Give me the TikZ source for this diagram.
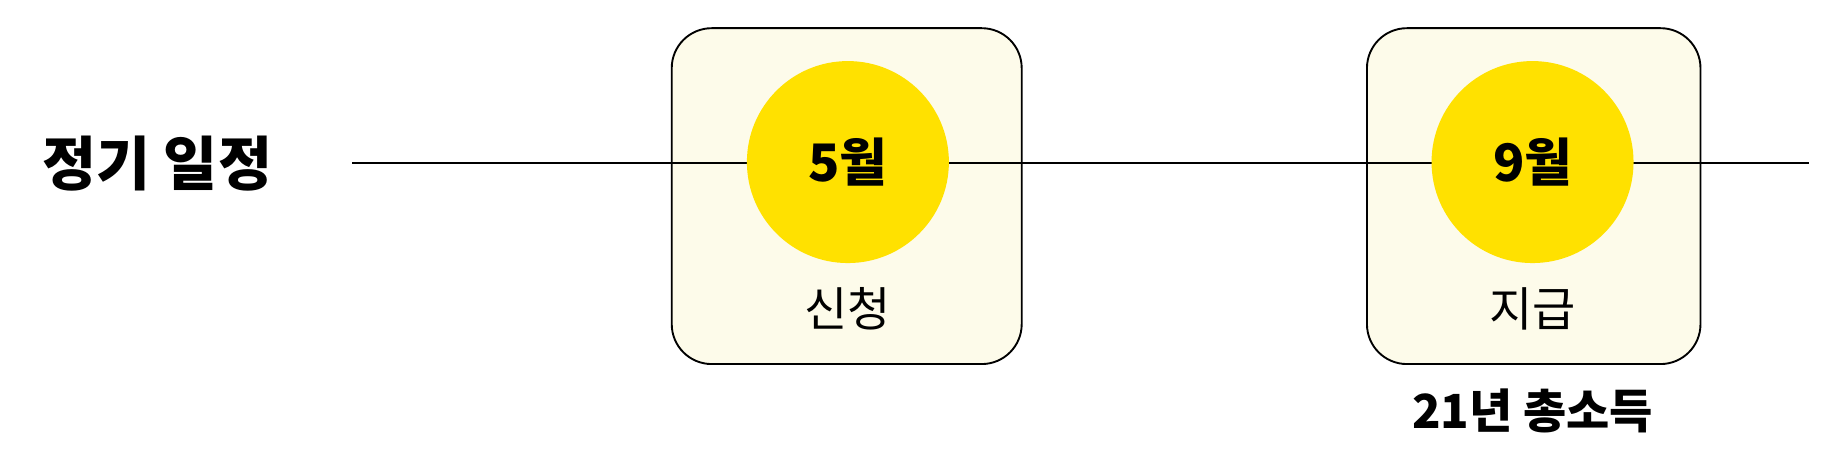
\documentclass[tikz,border=0pt]{standalone}
\usepackage{fontspec}
\setmainfont{Noto Sans CJK KR}
\definecolor{boxfill}{HTML}{FDFBEA}
\definecolor{sun}{HTML}{FFE100}
\begin{document}
\begin{tikzpicture}[x=1pt,y=-1pt,
  card/.style={draw=black, line width=1.6pt, fill=boxfill, rounded corners=34pt, minimum width=298pt, minimum height=286pt, inner sep=0pt},
  disc/.style={circle, fill=sun, minimum size=172pt, inner sep=0pt, font=\fontsize{44}{48}\selectfont\bfseries},
  sub/.style={font=\fontsize{40}{44}\selectfont}]
\useasboundingbox (0,0) rectangle (1560,397);
\node[font=\fontsize{50}{54}\selectfont\bfseries, anchor=west, inner sep=0pt] (title) at (36,139) {정기 일정};
\coordinate (ls) at (300,139);
\coordinate (le) at (1540,139);
\node[card] (c1) at (721,167) {};
\node[card, minimum width=284pt] (c2) at (1306,167) {};
\draw[line width=1.4pt] (ls) -- (le);
\node[disc] (m1) at (722,138) {5월};
\node[disc] (m2) at (1305,138) {9월};
\node[sub] (s1) at (722,263) {신청};
\node[sub] (s2) at (1305,263) {지급};
\node[font=\fontsize{40}{44}\selectfont\bfseries] (inc) at (1305,350) {21년 총소득};
\end{tikzpicture}
\end{document}
